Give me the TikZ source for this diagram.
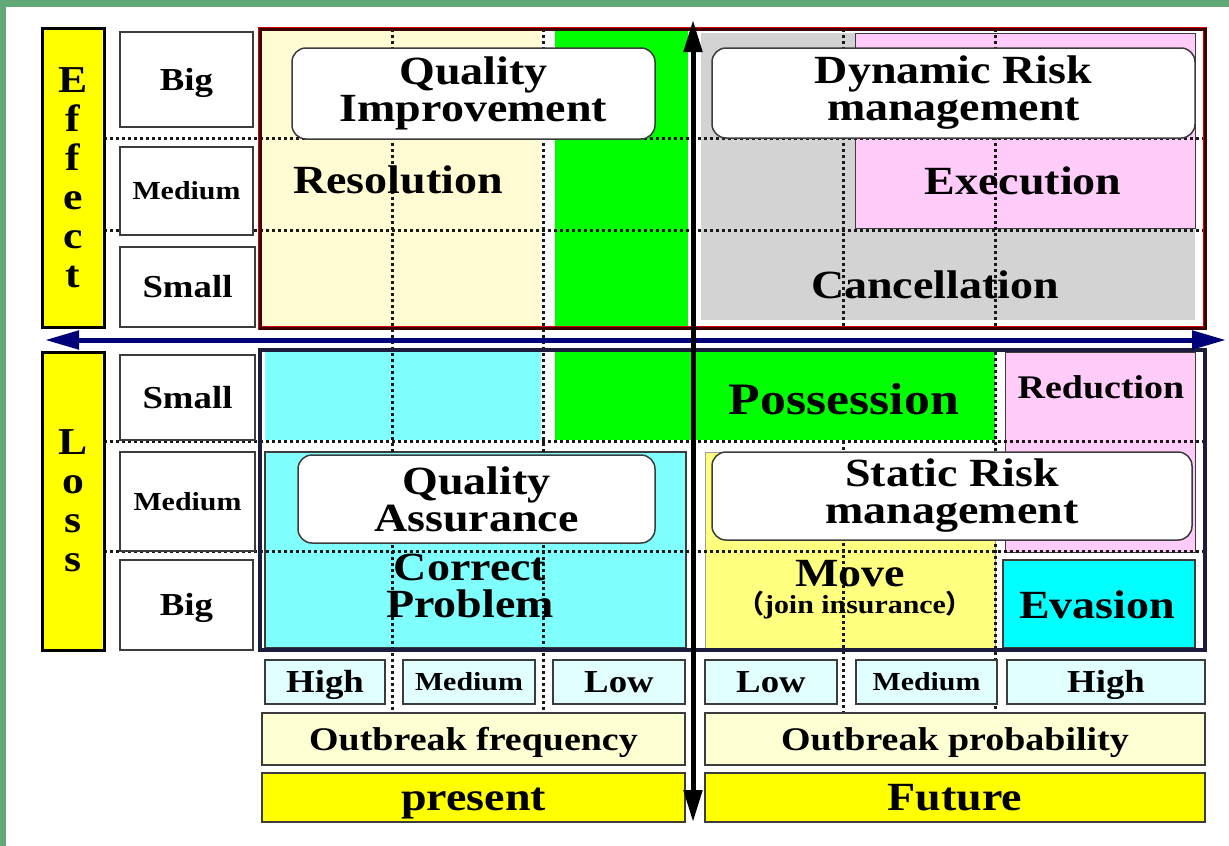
\documentclass[tikz,border=0pt]{standalone}
\usepackage{fontspec}
\setmainfont{Liberation Serif}[FakeStretch=1.15]
\newfontfamily\cjkfont{Noto Sans CJK JP}
\usetikzlibrary{arrows.meta}
\definecolor{framegreen}{RGB}{98,168,120}
\definecolor{sideyellow}{RGB}{255,255,0}
\definecolor{paleyellow}{RGB}{255,251,210}
\definecolor{brightgreen}{RGB}{0,255,0}
\definecolor{riskgray}{RGB}{211,211,211}
\definecolor{riskpink}{RGB}{255,204,250}
\definecolor{palecyan}{RGB}{128,255,255}
\definecolor{evacyan}{RGB}{0,255,255}
\definecolor{moveyellow}{RGB}{255,255,128}
\definecolor{ratecyan}{RGB}{226,255,255}
\definecolor{outyellow}{RGB}{255,255,212}
\definecolor{axisnavy}{RGB}{0,0,120}
\definecolor{boxgray}{RGB}{60,60,60}
\definecolor{topframe}{RGB}{60,0,0}
\definecolor{lowframe}{RGB}{28,28,60}

\begin{document}
\begin{tikzpicture}[x=1pt,y=-1pt]
  \tikzset{sidebox/.style = {draw=black,line width=3pt,fill=sideyellow,inner sep=0pt,align=center,font=\fontsize{38}{39}\selectfont\bfseries},
    levelbox/.style = {draw=boxgray,line width=1.5pt,fill=white,inner sep=0pt,font=\fontsize{32}{32}\selectfont\bfseries,text height=21pt,text depth=0pt},
    levelsmall/.style = {font=\fontsize{26}{26}\selectfont\bfseries,text height=17pt},
    ratebox/.style = {levelbox,fill=ratecyan},
    mgmtbox/.style = {draw=boxgray,line width=1.5pt,fill=white,rounded corners=14pt,inner sep=0pt,align=center,font=\fontsize{40}{37}\selectfont\bfseries},
    areatext/.style = {inner sep=0pt,font=\fontsize{40}{37}\selectfont\bfseries,text height=26pt,text depth=0pt},
    gridline/.style = {draw=black!90,line width=3pt,dash pattern=on 3pt off 3pt}}
\useasboundingbox (0,0) rectangle (1229,846);
\fill[framegreen] (0,0) rectangle (1229,846);
\fill[white] (6,7) rectangle (1229,846);
%
\fill[paleyellow] (262,31) rectangle (541,326);
\fill[brightgreen] (555,31) rectangle (688,328);
\fill[riskgray] (701,33) rectangle (1195,320);
\filldraw[fill=riskpink,draw=boxgray,line width=1pt] (855,33) rectangle (1195,228);
\fill[palecyan] (265,352) rectangle (541,440);
\filldraw[fill=palecyan,draw=boxgray,line width=1.2pt] (265,452) rectangle (686,648);
\fill[brightgreen] (555,352) rectangle (995,440);
\filldraw[fill=moveyellow,draw=boxgray!50,line width=1pt] (705,452) rectangle (995,648);
\filldraw[fill=riskpink,draw=boxgray,line width=1pt] (1005,352) rectangle (1195,552);
\filldraw[fill=evacyan,draw=boxgray,line width=1.2pt] (1003,560) rectangle (1195,648);
%
\draw[gridline] (104,138) -- (1205,138);
\draw[gridline] (104,230) -- (1205,230);
\draw[gridline] (104,441) -- (1205,441);
\draw[gridline] (104,551) -- (1205,551);
\draw[gridline] (392,29) -- (392,712);
\draw[gridline] (543,29) -- (543,712);
\draw[gridline] (843,29) -- (843,328);
\draw[gridline] (843,441) -- (843,712);
\draw[gridline] (995,29) -- (995,328);
\draw[gridline] (995,352) -- (995,712);
%
\draw[red!85!black,line width=4.4pt] (260,29) rectangle (1205,328);
\draw[topframe,line width=3pt] (260,29) rectangle (1205,328);
\draw[lowframe,line width=4pt] (260,350) rectangle (1205,650);
%
\node[sidebox,minimum width=62,minimum height=299] (effect) at (73,177.5) {E\\f\\f\\e\\c\\t};
\node[sidebox,minimum width=62,minimum height=298] (loss) at (73,501) {L\\o\\s\\s};
\node[levelbox,minimum width=133,minimum height=95] (effBig) at (186.5,79.5) {Big};
\node[levelbox,levelsmall,minimum width=133,minimum height=88] (effMedium) at (186.5,191) {Medium};
\node[levelbox,minimum width=135,minimum height=80] (effSmall) at (187.5,287) {Small};
\node[levelbox,minimum width=135,minimum height=85] (lossSmall) at (187.5,397.5) {Small};
\node[levelbox,levelsmall,minimum width=135,minimum height=99] (lossMedium) at (187.5,501.5) {Medium};
\node[levelbox,minimum width=133,minimum height=90] (lossBig) at (186.5,605) {Big};
%
\node[mgmtbox,minimum width=363,minimum height=91] (qualImp) at (473.5,93.5) {Quality\\Improvement};
\node[mgmtbox,minimum width=483,minimum height=90] (dynRisk) at (953.5,93) {Dynamic Risk\\management};
\node[mgmtbox,minimum width=357,minimum height=88] (qualAss) at (476.5,499) {Quality\\Assurance};
\node[mgmtbox,minimum width=480,minimum height=88] (statRisk) at (952,496) {Static Risk\\management};
%
\node[areatext] (resolution) at (398,180) {Resolution};
\node[areatext] (execution) at (1023,181) {Execution};
\node[areatext] (cancel) at (935,285) {Cancellation};
\node[areatext,font=\fontsize{45}{45}\selectfont\bfseries,text height=30pt] (possession) at (844,399) {Possession};
\node[areatext,font=\fontsize{33}{33}\selectfont\bfseries,text height=22pt] (reduction) at (1101,387.5) {Reduction};
\node[areatext] (evasion) at (1097,605.5) {Evasion};
\node[areatext] (move) at (850,573) {Move};
\node[areatext,levelsmall] (insurance) at (855,605) {{\cjkfont （}join insurance{\cjkfont ）}};
\node[inner sep=0pt,align=center,font=\fontsize{40}{37}\selectfont\bfseries] (correct) at (470,586) {Correct\\Problem};
%
\node[ratebox,minimum width=120,minimum height=44] (freqHigh) at (325,682) {High};
\node[ratebox,levelsmall,minimum width=132,minimum height=44] (freqMedium) at (469,682) {Medium};
\node[ratebox,minimum width=132,minimum height=44] (freqLow) at (619,682) {Low};
\node[ratebox,minimum width=132,minimum height=44] (probLow) at (771,682) {Low};
\node[ratebox,levelsmall,minimum width=141,minimum height=44] (probMedium) at (926.5,682) {Medium};
\node[ratebox,minimum width=198,minimum height=44] (probHigh) at (1106,682) {High};
\node[levelbox,fill=outyellow,font=\fontsize{33}{33}\selectfont\bfseries,text height=22pt,minimum width=423,minimum height=52] (freq) at (473.5,739) {Outbreak frequency};
\node[levelbox,fill=outyellow,font=\fontsize{33}{33}\selectfont\bfseries,text height=22pt,minimum width=500,minimum height=52] (prob) at (955,739) {Outbreak probability};
\node[levelbox,fill=sideyellow,font=\fontsize{40}{40}\selectfont\bfseries,text height=26pt,minimum width=423,minimum height=49] (present) at (473.5,797.5) {present};
\node[levelbox,fill=sideyellow,font=\fontsize{40}{40}\selectfont\bfseries,text height=26pt,minimum width=500,minimum height=49] (future) at (955,797.5) {Future};
%
\coordinate (hLeft) at (45,340);
\coordinate (hRight) at (1226,340);
\coordinate (vTop) at (693,20);
\coordinate (vBot) at (693,822);
\draw[axisnavy,line width=5pt,{Triangle[length=34pt,width=18pt]}-{Triangle[length=34pt,width=18pt]}] (hLeft) -- (hRight);
\draw[black,line width=5pt,{Triangle[length=32pt,width=18pt]}-{Triangle[length=32pt,width=18pt]}] (vBot) -- (vTop);
\end{tikzpicture}
\end{document}
